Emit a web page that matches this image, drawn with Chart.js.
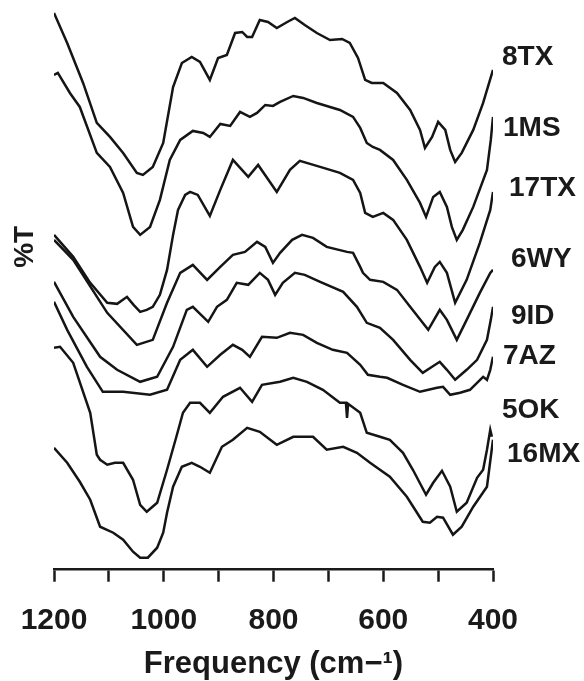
<!DOCTYPE html>
<html>
<head>
<meta charset="utf-8">
<script src="https://cdn.jsdelivr.net/npm/chart.js@4.4.1/dist/chart.umd.min.js"></script>
<style>
  html, body { margin: 0; padding: 0; background: #fff; }
  #wrap { width: 584px; height: 681px; }
</style>
</head>
<body>
<div id="wrap"><canvas id="irChart" width="584" height="681"></canvas></div>
<script>
/** sample names, top to bottom */
const samples = ["8TX", "1MS", "17TX", "6WY", "9ID", "7AZ", "5OK", "16MX"];

/** spectra: [frequency cm-1, %T (stacked, arbitrary offset)] */
const t8TX = [[1200,557],[1176,527],[1147,487],[1122,447],[1098,433],[1074,417],[1049,397],[1038,395],[1020,403],[1001,427],[983,483],[967,507],[949,513],[934,508],[916,490],[901,512],[885,515],[870,537],[857,538],[848,533],[839,533],[825,550],[810,548],[794,542],[775,548],[761,552],[743,545],[721,537],[697,530],[675,531],[661,527],[646,512],[633,490],[621,487],[600,487],[575,477],[551,460],[533,440],[524,422],[511,433],[500,448],[487,440],[478,420],[469,408],[457,417],[436,440],[418,467],[400,500]];
const t1MS = [[1200,495],[1193,497],[1171,477],[1153,463],[1122,417],[1098,403],[1074,377],[1056,343],[1043,335],[1025,343],[1007,370],[989,410],[970,430],[947,439],[928,437],[916,433],[897,446],[879,444],[861,458],[843,453],[830,457],[815,465],[801,464],[788,468],[764,474],[746,472],[721,467],[679,460],[655,453],[642,442],[630,427],[619,423],[606,420],[582,410],[557,390],[533,367],[522,353],[509,373],[497,378],[484,363],[475,343],[466,330],[455,340],[436,363],[411,400],[404,430],[400,453]];
const t17TX = [[1200,335],[1165,313],[1134,287],[1103,267],[1085,266],[1067,273],[1055,265],[1043,258],[1031,260],[1020,263],[1007,275],[994,300],[983,335],[974,360],[961,375],[952,378],[938,375],[916,354],[897,380],[874,410],[846,393],[828,405],[794,378],[770,400],[752,409],[715,403],[679,397],[655,390],[642,377],[633,357],[619,353],[600,357],[582,350],[557,330],[533,303],[520,287],[506,303],[497,308],[484,297],[469,267],[448,290],[424,327],[405,360],[400,378]];
const t6WY = [[1200,330],[1165,310],[1103,257],[1049,225],[1020,230],[994,267],[970,297],[947,305],[921,290],[897,303],[874,315],[852,318],[830,328],[815,323],[801,307],[788,317],[766,330],[748,335],[728,332],[703,323],[666,318],[655,317],[642,303],[637,297],[624,290],[600,288],[575,280],[551,263],[518,240],[497,260],[484,250],[466,230],[448,250],[424,277],[405,297],[400,300]];
const t9ID = [[1200,288],[1165,253],[1116,213],[1085,200],[1043,188],[1012,193],[983,223],[958,260],[947,263],[919,248],[903,263],[885,270],[867,287],[846,285],[825,297],[810,290],[797,275],[783,287],[761,297],[743,295],[715,288],[673,278],[648,263],[630,247],[606,242],[582,230],[551,210],[528,197],[511,203],[497,208],[484,200],[469,190],[448,200],[429,210],[411,230],[404,250],[400,263]];
const t7AZ = [[1200,268],[1176,240],[1140,203],[1111,178],[1074,178],[1025,175],[994,180],[970,210],[947,220],[921,203],[897,215],[874,225],[857,220],[843,213],[821,233],[794,232],[770,237],[746,235],[721,227],[692,220],[666,217],[642,205],[628,195],[606,193],[593,192],[564,185],[533,178],[502,182],[491,183],[478,175],[460,177],[442,180],[418,193],[411,190],[405,200],[400,213]];
const t5OK = [[1200,222],[1189,223],[1165,207],[1134,157],[1122,115],[1116,110],[1103,105],[1089,107],[1074,107],[1056,90],[1043,65],[1031,58],[1012,67],[994,100],[976,135],[965,157],[952,167],[934,167],[916,157],[892,173],[861,182],[839,168],[821,185],[788,188],[764,192],[739,188],[710,180],[679,167],[668,167],[666,152],[664,166],[642,157],[630,137],[606,133],[588,130],[575,123],[564,117],[546,100],[522,75],[509,87],[493,99],[478,83],[466,58],[448,67],[429,92],[418,100],[411,120],[405,140],[402,133]];
const t16MX = [[1200,122],[1176,107],[1153,88],[1134,70],[1116,43],[1092,37],[1074,30],[1056,18],[1043,12],[1029,12],[1012,22],[1001,37],[994,57],[983,83],[967,103],[949,107],[934,103],[916,97],[894,123],[874,130],[848,142],[825,138],[794,125],[764,133],[728,133],[703,120],[673,123],[648,117],[624,107],[606,100],[588,93],[557,73],[528,48],[515,47],[502,53],[491,52],[473,35],[457,43],[436,63],[411,83],[400,130]];

const spectra = [t8TX, t1MS, t17TX, t6WY, t9ID, t7AZ, t5OK, t16MX];

/** x axis ticks */
const xTicks = [1200, 1100, 1000, 900, 800, 700, 600, 500, 400];
const xLabelled = [1200, 1000, 800, 600, 400];

/** where the sample names sit: %T level and px right of the 400 end */
const labelLevel = [513, 442, 382, 311, 254, 214, 160, 115];
const labelDx = [9, 10, 16, 18, 18, 10, 9, 14];

const FONT = "'Liberation Sans', Arial, Helvetica, sans-serif";

const sideLabels = {
  id: "sideLabels",
  afterDraw(chart) {
    const ctx = chart.ctx;
    const xs = chart.scales.x;
    const ys = chart.scales.y;
    ctx.save();
    ctx.fillStyle = "#1a1a1a";
    ctx.font = "bold 28px " + FONT;
    ctx.textAlign = "left";
    ctx.textBaseline = "middle";
    samples.forEach(function (name, i) {
      ctx.fillText(name, xs.getPixelForValue(400) + labelDx[i], ys.getPixelForValue(labelLevel[i]));
    });
    // %T on the left
    ctx.translate(25, ys.getPixelForValue(323));
    ctx.rotate(-Math.PI / 2);
    ctx.textAlign = "center";
    ctx.fillText("%T", 0, 0);
    ctx.restore();
  }
};

const ctx = document.getElementById("irChart").getContext("2d");
const irChart = new Chart(ctx, {
  type: "line",
  data: {
    datasets: spectra.map(function (s, i) {
      return {
        label: samples[i],
        data: s.map(function (p) { return { x: p[0], y: p[1] }; }),
        borderColor: "#151515",
        borderWidth: 2.5,
        pointRadius: 0,
        tension: 0,
        fill: false
      };
    })
  },
  options: {
    responsive: false,
    animation: false,
    layout: { padding: { left: 54, right: 91, top: 0, bottom: 0 } },
    plugins: { legend: { display: false }, tooltip: { enabled: false } },
    scales: {
      x: {
        type: "linear",
        reverse: true,
        min: 400,
        max: 1200,
        afterBuildTicks: function (axis) {
          axis.ticks = xTicks.map(function (v) { return { value: v }; });
        },
        ticks: {
          autoSkip: false,
          maxRotation: 0,
          padding: 16,
          color: "#1a1a1a",
          font: { family: FONT, size: 30, weight: "bold", lineHeight: 1.533 },
          callback: function (v) { return xLabelled.indexOf(v) >= 0 ? String(v) : ""; }
        },
        grid: {
          drawOnChartArea: false,
          drawTicks: true,
          tickLength: 12,
          tickWidth: 2.5,
          tickColor: "#1a1a1a"
        },
        border: { display: true, color: "#1a1a1a", width: 2.5 },
        title: {
          display: true,
          text: "Frequency (cm\u2212\u00b9)",
          color: "#1a1a1a",
          font: { family: FONT, size: 31, weight: "bold", lineHeight: 0.3 },
          padding: { top: 0, bottom: 12 }
        }
      },
      y: {
        type: "linear",
        display: false,
        min: 0,
        max: 570
      }
    }
  },
  plugins: [sideLabels]
});
</script>
</body>
</html>
